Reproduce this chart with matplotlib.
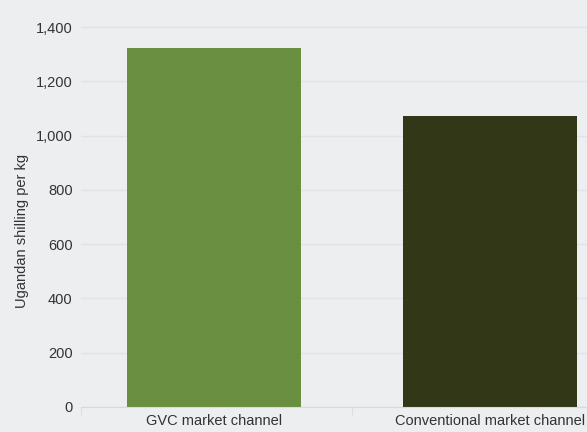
import matplotlib.pyplot as plt
from matplotlib import font_manager
from matplotlib.ticker import FuncFormatter

categories = ["GVC market channel", "Conventional market channel"]
values = [1322, 1072]
colors = ["#6a8f40", "#323817"]

# узкий шрифт, если он есть
names = {f.name for f in font_manager.fontManager.ttflist}
narrow = 'Liberation Sans Narrow' in names
plt.rcParams['font.family'] = ['Liberation Sans Narrow' if narrow else 'Liberation Sans', 'DejaVu Sans']
fs = 12 if narrow else 10.5

bg = "#eceef0"
fig = plt.figure(figsize=(5.87, 4.32), dpi=100, facecolor=bg)
ax = fig.add_axes([81 / 587, 25 / 432, (587 - 81) / 587, (407 - 25) / 432])
ax.set_facecolor(bg)

x = list(range(len(categories)))
ax.bar(x, values, width=0.63, color=colors, zorder=2)

ax.set_yticks(range(0, 1401, 200))
ax.yaxis.set_major_formatter(FuncFormatter(lambda v, p: f"{int(v):,}"))
ax.set_xticks(x)
ax.set_xticklabels(categories)
ax.set_xticks([-0.482, 0.5], minor=True)
ax.set_xlim(-0.482, 1.351)
ax.set_ylim(0, 1400 * 382 / 380)

ax.grid(axis='y', color="#dde3e6", linewidth=1, zorder=0)
for s in ['top', 'right', 'left']:
    ax.spines[s].set_visible(False)
ax.spines['bottom'].set_color("#d5dadd")
ax.tick_params(axis='y', length=0, pad=6, labelsize=fs, labelcolor="#333333")
ax.tick_params(axis='x', which='major', length=0, pad=5, labelsize=fs, labelcolor="#333333")
ax.tick_params(axis='x', which='minor', length=6, color="#d5dadd")

ax.set_ylabel("Ugandan shilling per kg", fontsize=fs, color="#333333")
ax.yaxis.set_label_coords(-52 / 506, 0.46)

fig.savefig("out.png", dpi=100, facecolor=bg)
